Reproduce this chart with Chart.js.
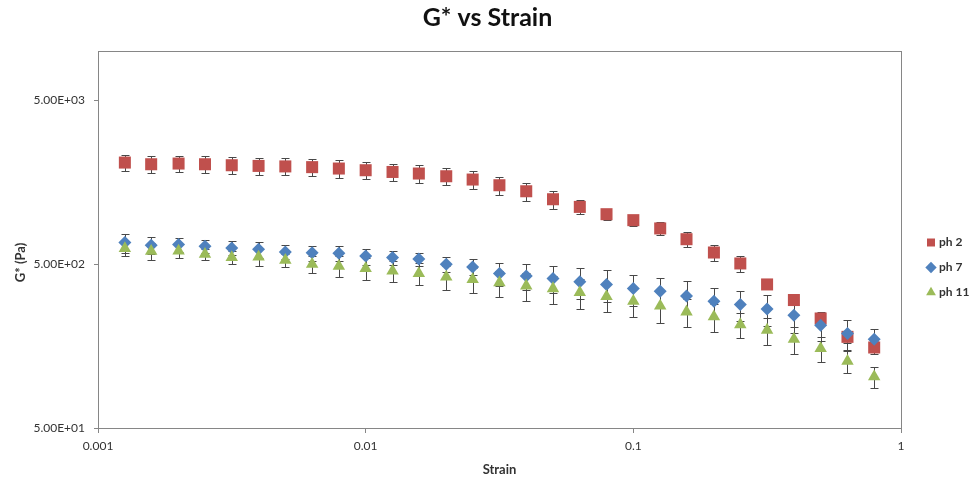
<!DOCTYPE html>
<html>
<head>
<meta charset="utf-8">
<script src="https://cdn.jsdelivr.net/npm/chart.js@4.4.1/dist/chart.umd.min.js"></script>
<style>
html,body{margin:0;padding:0;background:#ffffff;}
canvas{display:block;}
</style>
</head>
<body>
<canvas id="c" width="975" height="483"></canvas>
<script>
// ---- data ----
const strain = [0.00126, 0.00158, 0.002, 0.00251, 0.00316, 0.00398, 0.00501, 0.00631, 0.00794,
                0.01, 0.0126, 0.0158, 0.02, 0.0251, 0.0316, 0.0398, 0.0501, 0.0631, 0.0794,
                0.1, 0.126, 0.158, 0.2, 0.251, 0.316, 0.398, 0.501, 0.631, 0.794];

const ph2    = [2085, 2036, 2056, 2036, 2008, 1989, 1975, 1955, 1917, 1872, 1827, 1787, 1720, 1642, 1516,
                1393, 1245, 1118, 1009, 928, 826, 710, 589, 505, 376, 302, 233, 180, 155];
const ph2Err = [245, 240, 240, 240, 240, 240, 235, 240, 240, 215, 220, 220, 206, 197, 197,
                181, 162, 112, 81, 74, 73, 71, 65, 56, 15, 10, 16, 15, 14];

const ph7    = [678, 653, 659, 644, 628, 617, 594, 586, 583, 560, 549, 537, 500, 481, 439,
                423, 409, 390, 376, 355, 342, 320, 297, 284, 266, 244, 212, 189, 174];
const ph7Err = [91, 75, 65, 62, 62, 70, 59, 60, 62, 63, 52, 48, 52, 53, 70,
                75, 77, 85, 83, 77, 72, 73, 63, 60, 56, 53, 42, 39, 26];

const ph11    = [623, 600, 603, 575, 549, 554, 529, 500, 486, 471, 455, 439, 418, 403, 385,
                 369, 355, 336, 318, 297, 278, 256, 239, 214, 198, 174, 153, 128, 103];
const ph11Err = [64, 71, 61, 47, 49, 66, 51, 61, 71, 72, 68, 67, 68, 69, 69,
                 70, 70, 68, 63, 59, 58, 49, 47, 38, 38, 32, 27, 19, 15];

const seriesLabels = ['ph 2', 'ph 7', 'ph 11'];
const xTicks = [0.001, 0.01, 0.1, 1];
const xTickLabels = ['0.001', '0.01', '0.1', '1'];
const yTicks = [50, 500, 5000];
const yTickLabels = ['5.00E+01', '5.00E+02', '5.00E+03'];
const yTitle = 'G* (Pa)';

// ---- styling ----
const FONT = 'Lato, "Open Sans", "DejaVu Sans", sans-serif';
const AXIS = '#868686';
const TEXT = '#333333';

const toPoints = (vals) => strain.map((s, i) => ({x: s, y: vals[i]}));

const errorBars = {
  id: 'errorBars',
  beforeDatasetsDraw(chart) {
    const {ctx} = chart;
    const xs = chart.scales.x, ys = chart.scales.y;
    ctx.save();
    ctx.strokeStyle = '#484848';
    ctx.lineWidth = 1;
    chart.data.datasets.forEach((ds) => {
      const errs = ds.errors || [];
      ds.data.forEach((p, i) => {
        const e = errs[i];
        if (!e) return;
        const px = Math.round(xs.getPixelForValue(p.x)) + 0.5;
        const yt = Math.round(ys.getPixelForValue(p.y + e)) + 0.5;
        const yb = Math.round(ys.getPixelForValue(Math.max(p.y - e, 1))) + 0.5;
        ctx.beginPath();
        ctx.moveTo(px, yt); ctx.lineTo(px, yb);
        ctx.moveTo(px - 4, yt); ctx.lineTo(px + 4, yt);
        ctx.moveTo(px - 4, yb); ctx.lineTo(px + 4, yb);
        ctx.stroke();
      });
    });
    ctx.restore();
  }
};

// y-axis title, placed like the reference (a little below the plot-area centre)
const yAxisTitle = {
  id: 'yAxisTitle',
  afterDraw(chart) {
    const {ctx, chartArea} = chart;
    ctx.save();
    ctx.translate(21, (chartArea.top + chartArea.bottom) / 2 + 23);
    ctx.rotate(-Math.PI / 2);
    ctx.fillStyle = TEXT;
    ctx.font = 'bold 13px ' + FONT;
    ctx.textAlign = 'center';
    ctx.textBaseline = 'middle';
    ctx.fillText(yTitle, 0, 0);
    ctx.restore();
  }
};

new Chart(document.getElementById('c'), {
  type: 'scatter',
  data: {
    datasets: [
      {label: seriesLabels[0], data: toPoints(ph2), errors: ph2Err, pointStyle: 'rect', pointRadius: 8.5,
       backgroundColor: '#C0504D', borderColor: '#C0504D', borderWidth: 0, order: 3},
      {label: seriesLabels[1], data: toPoints(ph7), errors: ph7Err, pointStyle: 'rectRot', pointRadius: 6.5,
       backgroundColor: '#4F81BD', borderColor: '#4F81BD', borderWidth: 0, order: 2},
      {label: seriesLabels[2], data: toPoints(ph11), errors: ph11Err, pointStyle: 'triangle', pointRadius: 7.2,
       backgroundColor: '#9BBB59', borderColor: '#9BBB59', borderWidth: 0, order: 1}
    ]
  },
  options: {
    responsive: false,
    animation: false,
    devicePixelRatio: 1,
    layout: {padding: 0},
    plugins: {
      title: {
        display: true, text: 'G* vs Strain', color: '#111',
        font: {family: FONT, size: 25, weight: 'bold'},
        padding: {top: 3, bottom: 18}
      },
      legend: {
        position: 'right',
        maxWidth: 59,
        title: {display: true, text: ' ', font: {size: 10}, padding: {top: 0, bottom: 40}},
        labels: {
          usePointStyle: true, boxWidth: 4, boxHeight: 8, padding: 13,
          color: TEXT, font: {family: FONT, size: 12, weight: 'bold'},
          sort: (a, b) => a.datasetIndex - b.datasetIndex
        }
      },
      tooltip: {enabled: false}
    },
    scales: {
      x: {
        type: 'logarithmic', position: 'bottom', min: 0.001, max: 1,
        afterBuildTicks: (s) => { s.ticks = xTicks.map(v => ({value: v})); },
        afterFit: (s) => { s.height = 55; },
        ticks: {autoSkip: false, maxRotation: 0, padding: 6, color: TEXT,
                font: {family: FONT, size: 12},
                callback: (v, i) => xTickLabels[i]},
        grid: {display: true, drawOnChartArea: false, tickLength: 5, color: AXIS},
        border: {display: true, color: AXIS, width: 1},
        title: {display: true, text: 'Strain', color: TEXT,
                font: {family: FONT, size: 13, weight: 'bold'}, padding: {top: 0, bottom: 5}}
      },
      y: {
        type: 'logarithmic', position: 'left', min: 50, max: 10000,
        afterBuildTicks: (s) => { s.ticks = yTicks.map(v => ({value: v})); },
        afterFit: (s) => { s.width = 98; },
        ticks: {autoSkip: false, padding: 9, color: TEXT,
                font: {family: FONT, size: 12},
                callback: (v, i) => yTickLabels[i]},
        grid: {display: true, drawOnChartArea: false, tickLength: 4, color: AXIS},
        border: {display: true, color: AXIS, width: 1},
        title: {display: false}
      },
      x2: {
        type: 'linear', position: 'top', display: true,
        ticks: {display: false}, grid: {display: false},
        border: {display: true, color: AXIS, width: 1},
        afterFit: (s) => { s.height = 0; }
      },
      y2: {
        type: 'linear', position: 'right', display: true,
        ticks: {display: false}, grid: {display: false},
        border: {display: true, color: AXIS, width: 1},
        afterFit: (s) => { s.width = 15; }
      }
    }
  },
  plugins: [errorBars, yAxisTitle]
});
</script>
</body>
</html>
